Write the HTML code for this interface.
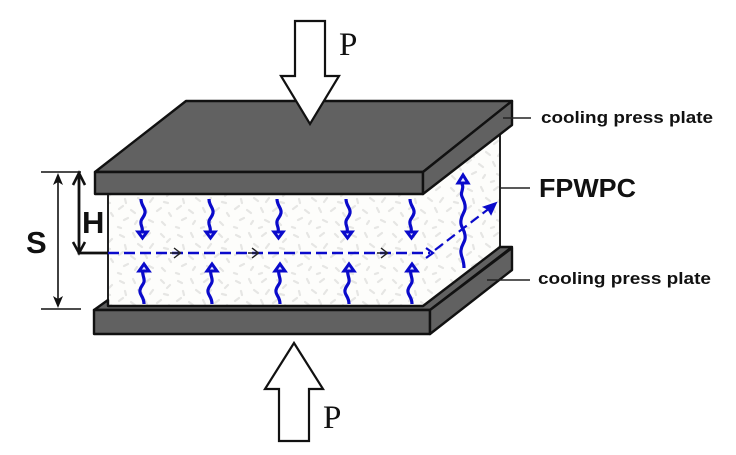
<!DOCTYPE html>
<html>
<head>
<meta charset="utf-8">
<style>
html,body{margin:0;padding:0;background:#fff;width:736px;height:455px;overflow:hidden}
svg{display:block}
text{font-family:"Liberation Sans",sans-serif;fill:#111}
</style>
</head>
<body>
<svg width="736" height="455" viewBox="0 0 736 455" xmlns="http://www.w3.org/2000/svg">
<defs>
<pattern id="tex" width="58" height="46" patternUnits="userSpaceOnUse">
<rect width="58" height="46" fill="#fdfdfb"/>
<g stroke="#e6e6e4" stroke-width="2.2" stroke-linecap="round" fill="none">
<path d="M4 5l4 2M17 3l2 4M30 6l4-3M45 4l3 3M54 9l-3 3M9 15l1 4M22 14l4 3M37 14l-3 4M48 18l4 1M3 25l4-3M15 26l4 3M29 24l2 4M41 27l4-3M53 29l2 3M8 36l4-2M21 37l-2 3M33 36l4 2M46 38l3 3M2 43l3 1M27 44l3-1"/>
</g>
</pattern>
</defs>

<!-- foam -->
<polygon points="108,194 423,194 500,134 500,246 423,306 108,306" fill="url(#tex)"/>
<path d="M108 194V306M500 134V247" stroke="#222" stroke-width="2" fill="none"/>

<!-- top plate -->
<g fill="#616161" stroke="#111" stroke-width="2.4" stroke-linejoin="round">
<polygon points="95,172 186,101 512,101 423,172"/>
<rect x="95" y="172" width="328" height="22"/>
<polygon points="423,172 512,101 512,125 423,194"/>
</g>

<!-- bottom plate -->
<g fill="#616161" stroke="#111" stroke-width="2.4" stroke-linejoin="round">
<polygon points="94,310 108,300 108,306 423,306 500,247 512,247 430,310"/>
<rect x="94" y="310" width="336" height="24"/>
<polygon points="430,310 512,248 512,270 430,334"/>
</g>

<!-- pressure arrows -->
<polygon points="295,21 325,21 325,76 339,76 310,124 281,76 295,76" fill="#fff" stroke="#111" stroke-width="2.2"/>
<polygon points="279,441 309,441 309,389 323,389 294,343 265,389 279,389" fill="#fff" stroke="#111" stroke-width="2.2"/>
<text x="339" y="55" font-size="33" style="font-family:'Liberation Serif',serif">P</text>
<text x="323" y="428" font-size="33" style="font-family:'Liberation Serif',serif">P</text>

<!-- dimensions -->
<g stroke="#111" fill="none">
<path d="M41 172H81M41 309H81" stroke-width="1.4"/>
<path d="M58 176V305" stroke-width="1.6"/>
<path d="M79 174V253H108" stroke-width="2.8"/>
<path d="M73 185L79 173L85 185M73 242L79 253L85 242" stroke-width="2.6"/>
</g>
<path d="M58 173L63 185L58 182L53 185ZM58 308L63 296L58 299L53 296Z" fill="#111"/>
<text x="26" y="253" font-size="31" font-weight="bold">S</text>
<text x="82" y="233" font-size="31" font-weight="bold">H</text>

<!-- flow -->
<path d="M108 253H430" stroke="#0a0acb" stroke-width="2.6" stroke-dasharray="11 5" fill="none"/>
<path d="M435 250L495 204" stroke="#0a0acb" stroke-width="2.2" stroke-dasharray="10 5" fill="none"/>
<polygon points="496,203 491,214 488,209 484,207" fill="#0a0acb" stroke="#0a0acb" stroke-width="1.6"/>
<path d="M426 248L433 253L426 258" stroke="#0a0acb" stroke-width="2.2" fill="none"/>
<path d="M170 253H180M248 253H258M377 253H387" stroke="#222" stroke-width="1.4"/>
<path d="M174 248L180.500 253L174 258M252 248L258.500 253L252 258M381 248L387.500 253L381 258" stroke="#222" stroke-width="1.4" fill="none"/>

<!-- squiggles -->
<g stroke="#0a0acb" stroke-width="3.2" fill="none">
<path d="M141 199C141 206 146 208 145 213C144 218 140 219 141 224C142 228 143 229 142 232"/>
<path d="M209 199C209 206 214 208 213 213C212 218 208 219 209 224C210 228 211 229 210 232"/>
<path d="M277 199C277 206 282 208 281 213C280 218 276 219 277 224C278 228 279 229 278 232"/>
<path d="M346 199C346 206 351 208 350 213C349 218 345 219 346 224C347 228 348 229 347 232"/>
<path d="M410 199C410 206 415 208 414 213C413 218 409 219 410 224C411 228 412 229 411 232"/>
<path d="M144 304C144 296 139 295 140 290C141 285 145 284 144 279C143 274 142 273 143 270"/>
<path d="M212 304C212 296 207 295 208 290C209 285 213 284 212 279C211 274 210 273 211 270"/>
<path d="M280 304C280 296 275 295 276 290C277 285 281 284 280 279C279 274 278 273 279 270"/>
<path d="M349 304C349 296 344 295 345 290C346 285 350 284 349 279C348 274 347 273 348 270"/>
<path d="M412 304C412 296 407 295 408 290C409 285 413 284 412 279C411 274 410 273 411 270"/>
<path d="M464 268C464 258 460 256 461 250C462 243 466 242 465 235C464 228 460 227 461 220C462 213 466 212 465 205C464 198 460 197 462 191C463 187 463 186 462 184"/>
</g>
<g fill="#e8e8ff" stroke="#0a0acb" stroke-width="3" stroke-linejoin="miter">
<polygon points="138,232 147,232 142.500,238"/>
<polygon points="206,232 215,232 210.500,238"/>
<polygon points="274,232 283,232 278.500,238"/>
<polygon points="343,232 352,232 347.500,238"/>
<polygon points="407,232 416,232 411.500,238"/>
<polygon points="139,271 149,271 144,264"/>
<polygon points="207,271 217,271 212,264"/>
<polygon points="275,271 285,271 280,264"/>
<polygon points="344,271 354,271 349,264"/>
<polygon points="407,271 417,271 412,264"/>
<polygon points="458,183 468,183 463,175"/>
</g>

<!-- leader lines -->
<path d="M503 118H531M500 188H530M487 280H530" stroke="#222" stroke-width="1.4" fill="none"/>

<!-- labels -->
<text x="541" y="123" font-size="17" font-weight="bold" textLength="172" lengthAdjust="spacingAndGlyphs">cooling press plate</text>
<text x="539" y="197" font-size="26" font-weight="bold" textLength="97" lengthAdjust="spacingAndGlyphs">FPWPC</text>
<text x="538" y="284" font-size="17" font-weight="bold" textLength="173" lengthAdjust="spacingAndGlyphs">cooling press plate</text>
</svg>
</body>
</html>
